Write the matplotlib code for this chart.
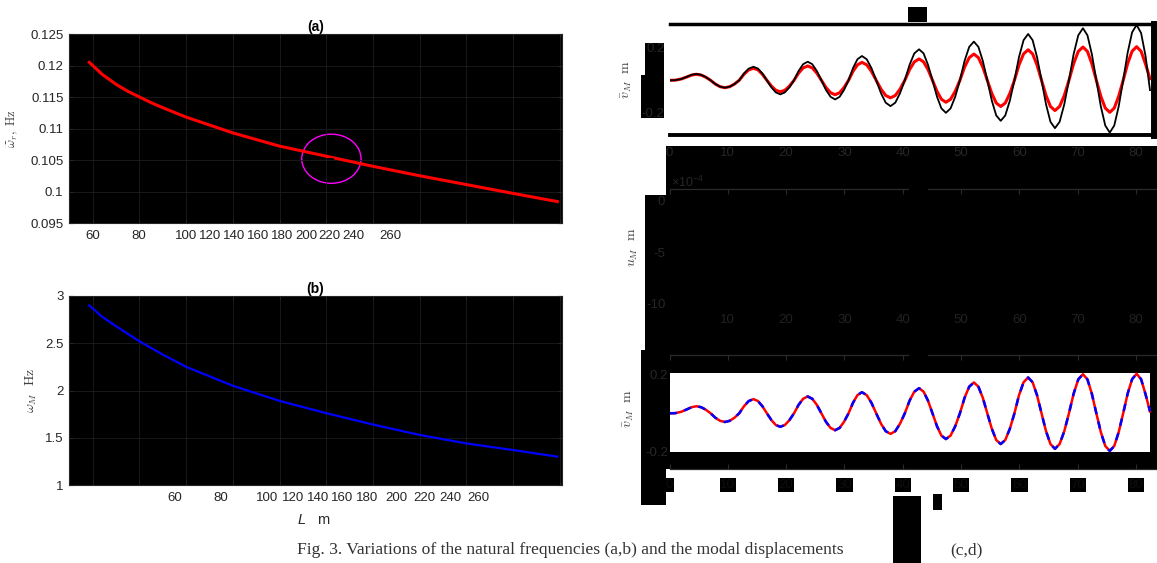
import matplotlib
matplotlib.use('Agg')
import matplotlib.pyplot as plt
from matplotlib.patches import Rectangle, Ellipse

plt.rcParams['font.family'] = 'Liberation Sans'
plt.rcParams['mathtext.fontset'] = 'custom'
plt.rcParams['mathtext.rm'] = 'Liberation Sans'
plt.rcParams['mathtext.it'] = 'Liberation Sans:italic'

# ---- data ----
# (a), (b): frequencies against length L
L = [58.5, 64, 70, 75, 80, 85, 90, 100, 120, 140, 160, 180, 200, 220, 240, 259]
omega_r = [0.1205, 0.1186, 0.1170, 0.1159, 0.1150, 0.1141, 0.1133, 0.1118, 0.1093,
           0.1072, 0.1056, 0.1040, 0.1025, 0.1011, 0.0997, 0.0984]
omega_M = [2.90, 2.78, 2.68, 2.60, 2.52, 2.45, 2.38, 2.25, 2.05, 1.89, 1.76, 1.64,
           1.53, 1.44, 1.37, 1.30]
L_ticks = [60, 80, 100, 120, 140, 160, 180, 200, 220, 240, 260]
L_tick_labels = [str(v) for v in L_ticks]
# marked point on (a)
circle_L, circle_w = 162.2, 0.1052
circle_dL, circle_dw = 25.4, 0.0078

# (c), (e): modal displacement against time
t = [0, 1.0, 2.0, 3.0, 3.8,
     4.6, 5.42, 6.23, 7.05, 7.87, 8.68,
     9.5, 10.32, 11.13, 11.95, 12.77, 13.58,
     14.4, 15.17, 15.93, 16.7, 17.47, 18.23,
     19.0, 19.78, 20.57, 21.35, 22.13, 22.92,
     23.7, 24.48, 25.27, 26.05, 26.83, 27.62,
     28.4, 29.17, 29.93, 30.7, 31.47, 32.23,
     33.0, 33.82, 34.63, 35.45, 36.27, 37.08,
     37.9, 38.72, 39.53, 40.35, 41.17, 41.98,
     42.8, 43.57, 44.33, 45.1, 45.87, 46.63,
     47.4, 48.2, 49.0, 49.8, 50.6, 51.4,
     52.2, 52.97, 53.73, 54.5, 55.27, 56.03,
     56.8, 57.58, 58.37, 59.15, 59.93, 60.72,
     61.5, 62.27, 63.03, 63.8, 64.57, 65.33,
     66.1, 66.9, 67.7, 68.5, 69.3, 70.1,
     70.9, 71.67, 72.43, 73.2, 73.97, 74.73,
     75.5, 76.27, 77.03, 77.8, 78.57, 79.33,
     80.1, 80.87, 81.63, 82.4]
v_black = [0, 0.001, 0.008, 0.022, 0.034,
           0.039, 0.034, 0.02, 0, -0.023, -0.039,
           -0.045, -0.039, -0.023, 0, 0.042, 0.072,
           0.083, 0.072, 0.042, 0, -0.043, -0.074,
           -0.086, -0.074, -0.043, 0, 0.057, 0.099,
           0.114, 0.099, 0.057, 0, -0.059, -0.101,
           -0.117, -0.101, -0.059, 0, 0.075, 0.129,
           0.149, 0.129, 0.075, 0, -0.079, -0.137,
           -0.158, -0.137, -0.079, 0, 0.095, 0.165,
           0.19, 0.165, 0.095, 0, -0.1, -0.172,
           -0.199, -0.172, -0.1, 0, 0.119, 0.205,
           0.237, 0.205, 0.119, 0, -0.124, -0.215,
           -0.248, -0.215, -0.124, 0, 0.142, 0.246,
           0.284, 0.246, 0.142, 0, -0.147, -0.254,
           -0.293, -0.254, -0.147, 0, 0.16, 0.276,
           0.319, 0.276, 0.16, 0, -0.16, -0.277,
           -0.32, -0.277, -0.16, 0, 0.17, 0.294,
           0.339, 0.29, 0.15, -0.06]
v_red = [0, 0.001, 0.008, 0.021, 0.032,
         0.037, 0.032, 0.019, 0, -0.023, -0.039,
         -0.045, -0.039, -0.023, 0, 0.037, 0.064,
         0.074, 0.064, 0.037, 0, -0.035, -0.061,
         -0.07, -0.061, -0.035, 0, 0.044, 0.076,
         0.088, 0.076, 0.044, 0, -0.044, -0.076,
         -0.088, -0.076, -0.044, 0, 0.055, 0.095,
         0.11, 0.095, 0.055, 0, -0.054, -0.093,
         -0.107, -0.093, -0.054, 0, 0.066, 0.113,
         0.131, 0.113, 0.066, 0, -0.067, -0.116,
         -0.134, -0.116, -0.067, 0, 0.081, 0.139,
         0.161, 0.139, 0.081, 0, -0.08, -0.139,
         -0.16, -0.139, -0.08, 0, 0.094, 0.162,
         0.187, 0.162, 0.094, 0, -0.093, -0.16,
         -0.185, -0.16, -0.093, 0, 0.102, 0.177,
         0.204, 0.177, 0.102, 0, -0.098, -0.17,
         -0.196, -0.17, -0.098, 0, 0.103, 0.178,
         0.206, 0.178, 0.1, 0.01]
t_ticks = [0, 10, 20, 30, 40, 50, 60, 70, 80]

caption_left = 'Fig. 3. Variations of the natural frequencies (a,b) and the modal displacements'
caption_right = '(c,d)'

# ---- layout helpers (pixel boxes of the 1157x563 picture) ----
W, H = 1157, 563
fig = plt.figure(figsize=(W / 100, H / 100), dpi=100)


def box(x0, y0, x1, y1):
    return [x0 / W, 1 - y1 / H, (x1 - x0) / W, (y1 - y0) / H]


def rect(x0, y0, x1, y1, z=-1):
    fig.add_artist(Rectangle((x0 / W, 1 - y1 / H), (x1 - x0) / W, (y1 - y0) / H,
                             transform=fig.transFigure, facecolor='black',
                             edgecolor='none', zorder=z))


def ftext(x, y, s, **kw):
    return fig.text(x / W, 1 - y / H, s, **kw)


DARK = '#262626'
GRID = '#1c1c1c'
FS = 9.5

# ---- left column ----
ax_a = fig.add_axes(box(69, 34, 562, 223))
ax_b = fig.add_axes(box(69, 296, 562, 485))

# tick labels of the left panels sit where the picture shows them
a_label_pos = [60.1, 79.8, 99.9, 110.2, 120.5, 130.8, 141.0, 151.3, 161.2, 171.5, 187.3]
b_label_pos = [95.2, 114.9, 134.6, 145.8, 156.5, 166.8, 177.5, 189.9, 201.9, 213.0, 225.0]

for ax, pos in ((ax_a, a_label_pos), (ax_b, b_label_pos)):
    ax.set_facecolor('black')
    ax.set_xlim(49.8, 261)
    for s in ax.spines.values():
        s.set_color(DARK)
        s.set_linewidth(0.8)
    ax.set_xticks(pos, labels=L_tick_labels)
    ax.set_xticks(L_ticks, minor=True)
    ax.tick_params(which='minor', axis='x', direction='in', length=3, color=DARK, top=True)
    ax.tick_params(which='major', axis='x', length=0, pad=5, labelsize=FS, labelcolor=DARK)
    ax.tick_params(axis='y', direction='in', length=3, color=DARK, right=True,
                   labelsize=FS, labelcolor=DARK, pad=4)
    ax.grid(which='minor', axis='x', color=GRID, lw=0.6)
    ax.grid(which='major', axis='y', color=GRID, lw=0.6)

ax_a.plot(L, omega_r, color='red', lw=2.2)
ax_a.add_patch(Ellipse((circle_L, circle_w), circle_dL, circle_dw, fill=False,
                       edgecolor='#ff00ff', lw=1))
ax_a.plot([circle_L], [circle_w], marker='_', color='black', ms=5, mew=1.2)
ax_a.set_ylim(0.095, 0.125)
ax_a.set_yticks([0.095, 0.1, 0.105, 0.11, 0.115, 0.12, 0.125],
                labels=['0.095', '0.1', '0.105', '0.11', '0.115', '0.12', '0.125'])
ax_a.set_title('(a)', fontweight='bold', fontsize=10, pad=2)
ax_a.set_ylabel(r'$\widetilde{\omega}_r,\ \mathrm{Hz}$', math_fontfamily='cm',
                fontsize=9, color='#404040')
ax_a.yaxis.set_label_coords(-0.099, 0.5)

ax_b.plot(L, omega_M, color='blue', lw=1.6)
ax_b.set_ylim(1, 3)
ax_b.set_yticks([1, 1.5, 2, 2.5, 3], labels=['1', '1.5', '2', '2.5', '3'])
ax_b.set_title('(b)', fontweight='bold', fontsize=10, pad=2.5)
ax_b.set_ylabel(r'$\omega_M\ \ \mathrm{Hz}$', math_fontfamily='cm',
                fontsize=10, color='#404040')
ax_b.yaxis.set_label_coords(-0.061, 0.5)
ax_b.set_xlabel(r'$L$   m', fontsize=10.5, color=DARK)
ax_b.xaxis.set_label_coords(0.497, -0.148)

# ---- right column: black backgrounds behind the panels ----
rect(666, 146, 1157, 469)
rect(645, 195, 666, 350)
rect(641, 350, 666, 505)
rect(645, 43, 664, 75)
rect(641, 75, 664, 118)

ax_c = fig.add_axes(box(669.5, 24, 1153.5, 134.7))
ax_d = fig.add_axes(box(669.5, 189, 1157, 308))
ax_e = fig.add_axes(box(669.5, 355, 1157, 469))

# (c)
ax_c.set_facecolor('white')
ax_c.plot(t, v_red, color='red', lw=2.2, zorder=2)
ax_c.plot(t, v_black, color='black', lw=1.3, zorder=3)
ax_c.set_xlim(0, 83.0)
ax_c.set_ylim(-0.333, 0.345)
ax_c.spines['left'].set_visible(False)
ax_c.spines['top'].set_linewidth(2.5)
ax_c.spines['bottom'].set_linewidth(2.8)
ax_c.spines['right'].set_linewidth(5)
ax_c.set_xticks(t_ticks)
ax_c.set_yticks([-0.2, 0.2], labels=['-0.2', '0.2'])
ax_c.tick_params(axis='both', length=0, labelsize=FS, labelcolor=DARK)
ax_c.tick_params(axis='x', pad=9)
ax_c.tick_params(axis='y', pad=3.5)
ax_c.set_ylabel(r'$\bar{v}_M\ \ \mathrm{m}$', math_fontfamily='cm', fontsize=10,
                color='#404040')
ax_c.yaxis.set_label_coords(-0.073, 0.5)

# (d)
ax_d.set_facecolor('black')
ax_d.set_xlim(0, 83.6)
ax_d.set_ylim(-10.4, 1.165)
for k in ('left', 'right', 'bottom'):
    ax_d.spines[k].set_visible(False)
ax_d.spines['top'].set_color('#2a2a2a')
ax_d.spines['top'].set_linewidth(0.9)
ax_d.set_xticks(t_ticks, labels=[''] + [str(v) for v in t_ticks[1:]])
ax_d.tick_params(axis='x', direction='in', length=3.5, color='#2a2a2a', top=True,
                 bottom=False, labelsize=FS, labelcolor='#222222', pad=4.5)
ax_d.set_yticks([-10, -5, 0], labels=['-10', '-5', '0'])
ax_d.tick_params(axis='y', length=0, labelsize=FS, labelcolor='#262626', pad=3)
ax_d.set_ylabel(r'$u_M\ \ \mathrm{m}$', math_fontfamily='cm', fontsize=10,
                color='#404040')
ax_d.yaxis.set_label_coords(-0.0605, 0.515)
ftext(671, 182, r'$\times$10$^{-4}$', fontsize=9, color='#262626', va='center')

# (e)
ax_e.set_facecolor('black')
ax_e.set_xlim(0, 83.6)
ax_e.set_ylim(-0.29, 0.304)
ax_e.fill_between([t[0], t[-1]], min(v_red) * 1.02, max(v_red) * 1.03,
                  color='white', lw=0, zorder=0.5)
ax_e.plot(t, v_red, color='red', lw=1.8, zorder=2)
ln, = ax_e.plot(t, v_red, color='blue', lw=1.8, zorder=3)
ln.set_dashes([3, 3])
for k in ('left', 'right'):
    ax_e.spines[k].set_visible(False)
for k in ('top', 'bottom'):
    ax_e.spines[k].set_color('#2a2a2a')
    ax_e.spines[k].set_linewidth(0.9)
ax_e.set_xticks(t_ticks)
ax_e.tick_params(axis='x', direction='in', length=3.5, color='#2a2a2a', top=True,
                 labelsize=FS, labelcolor='#0d0d0d', pad=7)
for lbl in ax_e.get_xticklabels():
    lbl.set_bbox(dict(facecolor='black', edgecolor='none', pad=0.6))
ax_e.set_yticks([-0.2, 0.2], labels=['-0.2', '0.2'])
ax_e.tick_params(axis='y', length=0, labelsize=FS, labelcolor='#262626', pad=1)
ax_e.set_ylabel(r'$\bar{v}_M\ \ \mathrm{m}$', math_fontfamily='cm', fontsize=10,
                color='#404040')
ax_e.yaxis.set_label_coords(-0.069, 0.535)

# hidden panel titles and label boxes
ftext(917.5, 14.5, '(c)', fontsize=9, fontweight='bold', color='black', ha='center',
      va='center', bbox=dict(facecolor='black', edgecolor='none', pad=1.2), zorder=10)
rect(909, 183, 928, 196, z=10)
rect(909, 346, 928, 372, z=10)
ftext(907, 503, 'time', fontsize=10, style='italic', color='black', ha='center',
      va='center', zorder=10)
rect(893, 496, 921, 563, z=9)
ftext(937.5, 502, 's', fontsize=10, color='black', ha='center', va='center',
      bbox=dict(facecolor='black', edgecolor='none', pad=0.5), zorder=10)

# caption, split round the black box
ftext(297, 550, caption_left, fontsize=12.6, family='Liberation Serif', color='#333333',
      ha='left', va='center', zorder=5)
ftext(950, 550, caption_right, fontsize=12.6, family='Liberation Serif', color='#333333',
      ha='left', va='center', zorder=5)

fig.savefig('out.png', dpi=100)
